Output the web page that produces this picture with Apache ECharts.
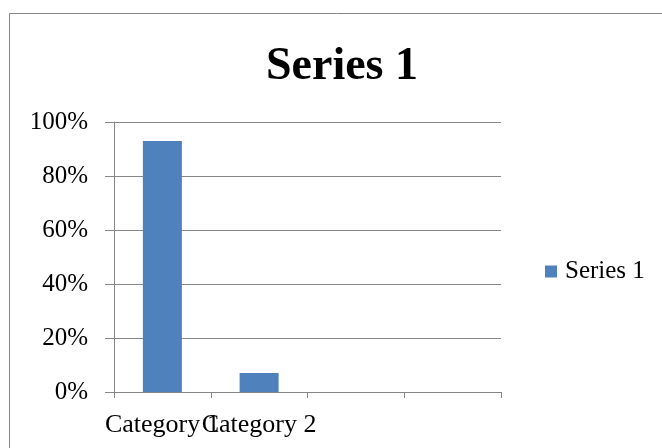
<!DOCTYPE html>
<html>
<head>
<meta charset="utf-8">
<script src="https://cdn.jsdelivr.net/npm/echarts@6/dist/echarts.min.js"></script>
<style>
  html, body { margin: 0; padding: 0; background: #fff; }
  #chart { width: 662px; height: 448px; }
</style>
</head>
<body>
<div id="chart"></div>
<script>
// chart data
const categories = ['Category 1', 'Category 2', '', '']
const seriesName = 'Series 1'
const values = [0.93, 0.07, null, null]
const yTicks = [0, 0.2, 0.4, 0.6, 0.8, 1]

const chart = echarts.init(document.getElementById('chart'))
const font = 'Liberation Serif, Times New Roman, serif'
const gray = '#868686'

chart.setOption({
  animation: false,
  textStyle: { fontFamily: font },
  graphic: [
    {
      // outer chart border
      type: 'rect',
      shape: { x: 9.5, y: 13.5, width: 700, height: 500 },
      style: { fill: 'none', stroke: gray, lineWidth: 1 }
    }
  ],
  title: {
    text: seriesName,
    left: 261,
    top: 39,
    textStyle: { fontFamily: font, fontSize: 46, fontWeight: 'bold', color: '#000' }
  },
  legend: {
    data: [seriesName],
    left: 540,
    top: 254,
    icon: 'rect',
    itemWidth: 12,
    itemHeight: 12,
    itemGap: 6,
    textStyle: { fontFamily: font, fontSize: 25, color: '#000', padding: [0, 0, 0, 3] }
  },
  grid: {
    left: 114,
    right: 161,
    top: 122,
    bottom: 56
  },
  xAxis: {
    type: 'category',
    data: categories,
    boundaryGap: true,
    axisLine: { show: true, lineStyle: { color: gray } },
    axisTick: { show: true, length: 6, lineStyle: { color: gray } },
    axisLabel: { interval: 0, margin: 20, fontFamily: font, fontSize: 26, color: '#000' },
    splitLine: { show: false }
  },
  yAxis: {
    type: 'value',
    min: yTicks[0],
    max: yTicks[yTicks.length - 1],
    interval: 0.2,
    axisLine: { show: true, lineStyle: { color: gray } },
    axisTick: { show: true, length: 9, lineStyle: { color: gray } },
    axisLabel: {
      margin: 26,
      fontFamily: font,
      fontSize: 25,
      color: '#000',
      formatter: v => Math.round(v * 100) + '%'
    },
    splitLine: { show: true, lineStyle: { color: gray } }
  },
  series: [
    {
      name: seriesName,
      type: 'bar',
      data: values,
      barWidth: 39,
      itemStyle: { color: '#4F81BD' }
    }
  ]
})
</script>
</body>
</html>
